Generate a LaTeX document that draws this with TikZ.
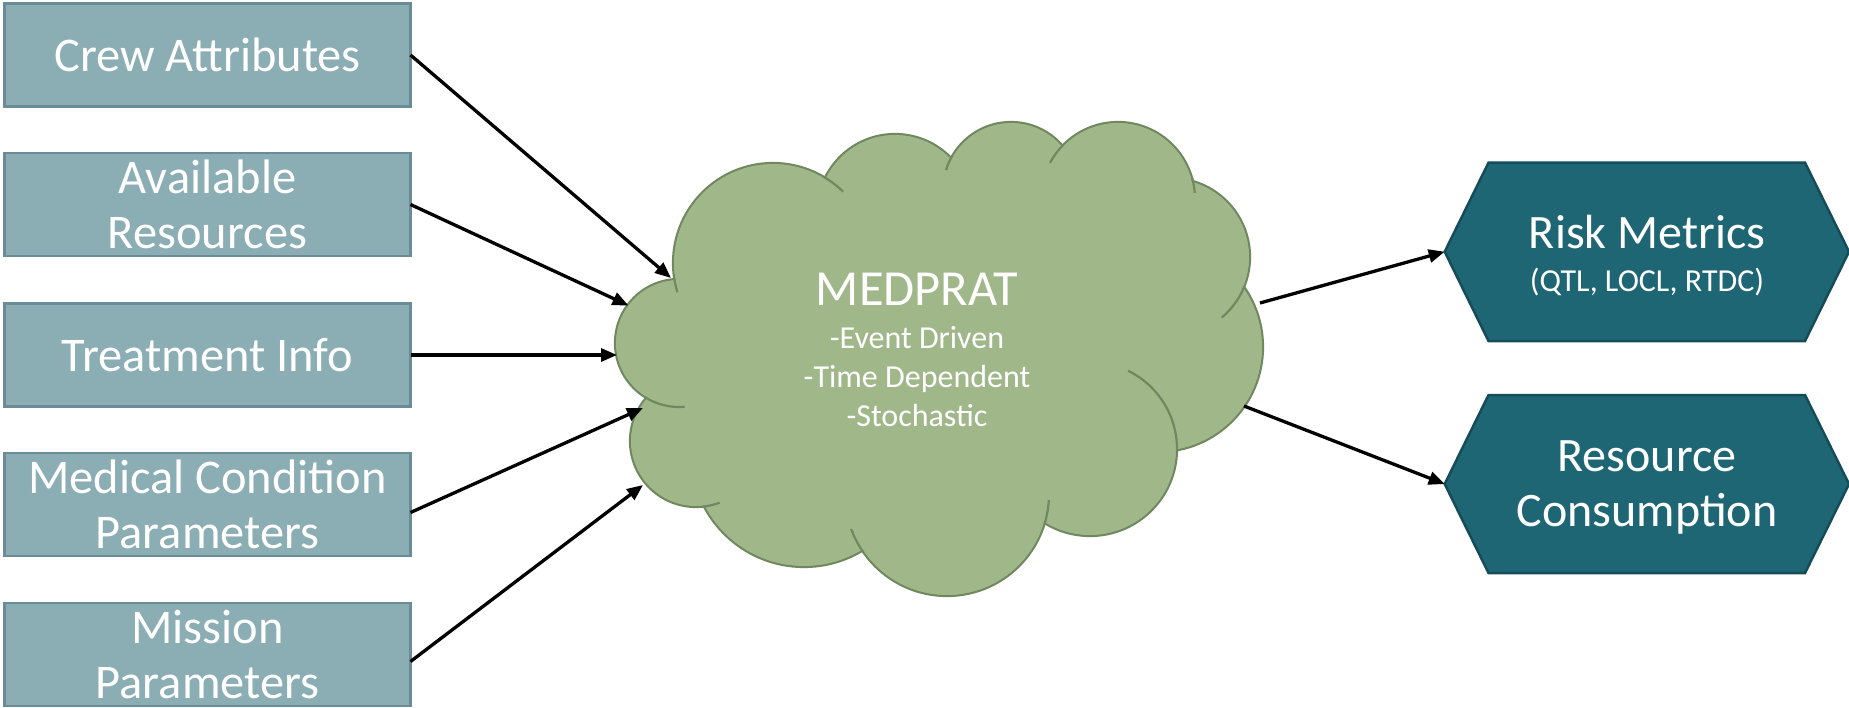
\documentclass[tikz,border=0pt]{standalone}
\usepackage{fontspec}
\setmainfont{Carlito}
\usetikzlibrary{arrows.meta}
\definecolor{boxfill}{RGB}{139,173,180}
\definecolor{boxdraw}{RGB}{106,140,150}
\definecolor{cloudfill}{RGB}{160,183,137}
\definecolor{clouddraw}{RGB}{112,136,96}
\definecolor{hexfill}{RGB}{31,102,117}
\definecolor{hexdraw}{RGB}{22,76,89}
\begin{document}
\begin{tikzpicture}[x=1pt,y=1pt,yscale=-1,
  inbox/.style={draw=boxdraw,fill=boxfill,line width=2.7pt,minimum width=406pt,minimum height=103pt,inner sep=0pt,outer sep=0pt,text=white,align=center,font=\fontsize{48.4}{55}\selectfont},
  conn/.style={line width=3.3pt,-{Triangle[length=16pt,width=13pt]}},
  lobe/.style={fill=cloudfill,draw=clouddraw,line width=2.2pt},
  lobein/.style={draw=clouddraw,line width=2.2pt},
  hexshape/.style={fill=hexfill,draw=hexdraw,line width=2.5pt},
  bigtxt/.style={text=white,inner sep=0pt,anchor=base,font=\fontsize{48}{55}\selectfont},
  midtxt/.style={text=white,inner sep=0pt,anchor=base,font=\fontsize{50.5}{60}\selectfont},
  smalltxt/.style={text=white,inner sep=0pt,anchor=base,font=\fontsize{32}{39}\selectfont}
]
\path[use as bounding box] (0,0) rectangle (1849,707);
% input boxes
\node[inbox] (crew) at (207.5,55) {Crew Attributes};
\node[inbox] (avail) at (207.5,204.5) {Available\\Resources};
\node[inbox] (treat) at (207.5,355) {Treatment Info};
\node[inbox] (medc) at (207.5,504.5) {Medical Condition\\Parameters};
\node[inbox] (miss) at (207.5,654.5) {Mission\\Parameters};
% cloud lobes
\foreach \cx/\cy/\r in {773/263/100,895/212/78,1011/190/68,1118/199/77,1171/257/79,1158/347/105,1090/449/87,947/494/102,804/454/113,696/441/66,679/343/64}
  \draw[lobe] (\cx,\cy) circle[radius=\r];
\fill[cloudfill] (773,263) -- (895,212) -- (1011,190) -- (1118,199) -- (1171,257) -- (1158,347) -- (1090,449) -- (947,494) -- (804,454) -- (696,441) -- (679,343) -- cycle;
\foreach \cx/\cy/\r in {773/263/100,895/212/78,1011/190/68,1118/199/77,1171/257/79,1158/347/105,1090/449/87,947/494/102,804/454/113,696/441/66,679/343/64}
  \fill[cloudfill] (\cx,\cy) circle[radius=\r-1.1];
% inner arcs of the cloud
\draw[lobein] (773,263) ++(172:100) arc[start angle=172,end angle=163,radius=100];
\draw[lobein] (773,263) ++(-60:100) arc[start angle=-60,end angle=-45.5,radius=100];
\draw[lobein] (1011,190) ++(210:68) arc[start angle=210,end angle=197,radius=68];
\draw[lobein] (1118,199) ++(225:77) arc[start angle=225,end angle=208,radius=77];
\draw[lobein] (1118,199) ++(-16:77) arc[start angle=-16,end angle=-4.6,radius=77];
\draw[lobein] (1171,257) ++(22:79) arc[start angle=22,end angle=50,radius=79];
\draw[lobein] (1090,449) ++(2:87) arc[start angle=2,end angle=-64,radius=87];
\draw[lobein] (947,494) ++(17:102) arc[start angle=17,end angle=3.4,radius=102];
\draw[lobein] (947,494) ++(145:102) arc[start angle=145,end angle=160,radius=102];
\draw[lobein] (696,441) ++(84:66) arc[start angle=84,end angle=69,radius=66];
\draw[lobein] (679,343) ++(122:64) arc[start angle=122,end angle=85,radius=64];
% cloud text
\node[midtxt] (medprat) at (917,305) {MEDPRAT};
\node[smalltxt] (ev) at (917,348.3) {-Event Driven};
\node[smalltxt] (td) at (917,387.5) {-Time Dependent};
\node[smalltxt] (st) at (917,426.7) {-Stochastic};
% output hexagons
\coordinate (hrisk) at (1444.7,251.7);
\coordinate (hres) at (1444.7,484);
\path[hexshape] (hrisk) -- (1488.5,162.7) -- (1805,162.7) -- (1849,251.7) -- (1805,341) -- (1488.5,341) -- cycle;
\path[hexshape] (hres) -- (1488.5,395) -- (1805,395) -- (1849,484) -- (1805,573) -- (1488.5,573) -- cycle;
\node[bigtxt] (risk) at (1647,248.3) {Risk Metrics};
\node[smalltxt] (qtl) at (1647,291.7) {(QTL, LOCL, RTDC)};
\node[bigtxt] (res) at (1647,471.7) {Resource};
\node[bigtxt] (cons) at (1647,526.7) {Consumption};
% connector end points on the cloud
\coordinate (tcrew) at (671,278);
\coordinate (tavail) at (628.5,305.5);
\coordinate (ttreat) at (617,355);
\coordinate (tmed) at (643,408);
\coordinate (tmis) at (643,485);
\coordinate (srisk) at (1260,303);
\coordinate (sres) at (1244,406);
% connectors
\draw[conn] (crew.east) -- (tcrew);
\draw[conn] (avail.east) -- (tavail);
\draw[conn] (treat.east) -- (ttreat);
\draw[conn] (medc.east) ++(0,8) -- (tmed);
\draw[conn] (miss.east) ++(0,7) -- (tmis);
\draw[conn] (srisk) -- (hrisk);
\draw[conn] (sres) -- (hres);
\end{tikzpicture}
\end{document}
